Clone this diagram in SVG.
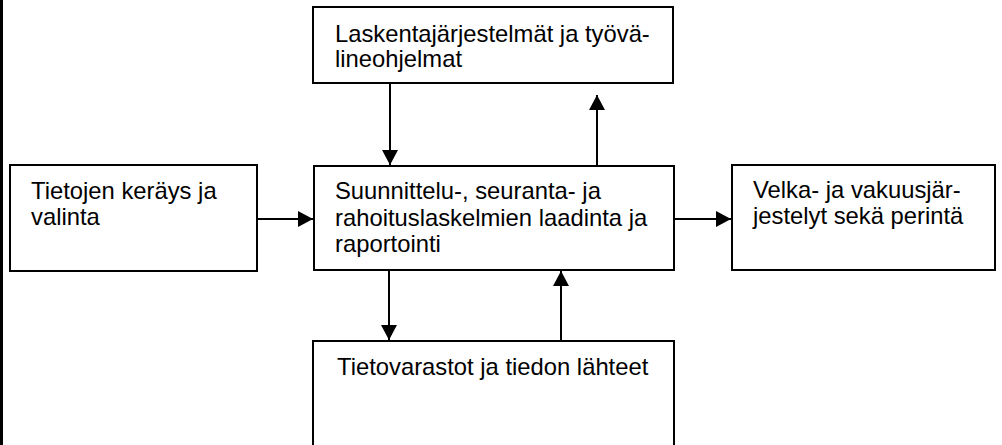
<svg xmlns="http://www.w3.org/2000/svg" width="1002" height="445" viewBox="0 0 1002 445">
<style>
.box{fill:#fff;stroke:#000;stroke-width:2}
.lbl{font-family:"Liberation Sans",Arial,sans-serif;font-size:23.8px;fill:#000}
.con{stroke:#000;stroke-width:2;fill:none}
</style>
<defs>
<marker id="ah" markerUnits="userSpaceOnUse" markerWidth="15" markerHeight="16" refX="15" refY="8" orient="auto">
<path d="M0,0 L15,8 L0,16 z" fill="#000"/>
</marker>
</defs>
<rect width="1002" height="445" fill="#fff"/>
<line x1="1.5" y1="0" x2="1.5" y2="445" stroke="#000" stroke-width="3"/>
<g id="n-top">
<rect class="box" x="313" y="7" width="360" height="76"/>
<text class="lbl" x="335" y="42">Laskentajärjestelmät ja työvä-</text>
<text class="lbl" x="335" y="67">lineohjelmat</text>
</g>
<g id="n-left">
<rect class="box" x="10" y="165" width="247" height="106"/>
<text class="lbl" x="31" y="199">Tietojen keräys ja</text>
<text class="lbl" x="31" y="225">valinta</text>
</g>
<g id="n-center">
<rect class="box" x="314" y="166" width="360" height="104"/>
<text class="lbl" x="335" y="199">Suunnittelu-, seuranta- ja</text>
<text class="lbl" x="335" y="225.5">rahoituslaskelmien laadinta ja</text>
<text class="lbl" x="335" y="251.5">raportointi</text>
</g>
<g id="n-right">
<rect class="box" x="732" y="165" width="263" height="105"/>
<text class="lbl" x="753" y="198">Velka- ja vakuusjär-</text>
<text class="lbl" x="753" y="224">jestelyt sekä perintä</text>
</g>
<g id="n-bottom">
<rect class="box" x="313" y="341" width="361" height="110"/>
<text class="lbl" x="337" y="375">Tietovarastot ja tiedon lähteet</text>
</g>
<g id="connectors">
<line class="con" x1="390" y1="83" x2="390" y2="165" marker-end="url(#ah)"/>
<line class="con" x1="597" y1="166" x2="597" y2="95" marker-end="url(#ah)"/>
<line class="con" x1="257" y1="219" x2="313" y2="219" marker-end="url(#ah)"/>
<line class="con" x1="674" y1="219" x2="731" y2="219" marker-end="url(#ah)"/>
<line class="con" x1="389" y1="270" x2="389" y2="340" marker-end="url(#ah)"/>
<line class="con" x1="561" y1="341" x2="561" y2="271" marker-end="url(#ah)"/>
</g>
</svg>
